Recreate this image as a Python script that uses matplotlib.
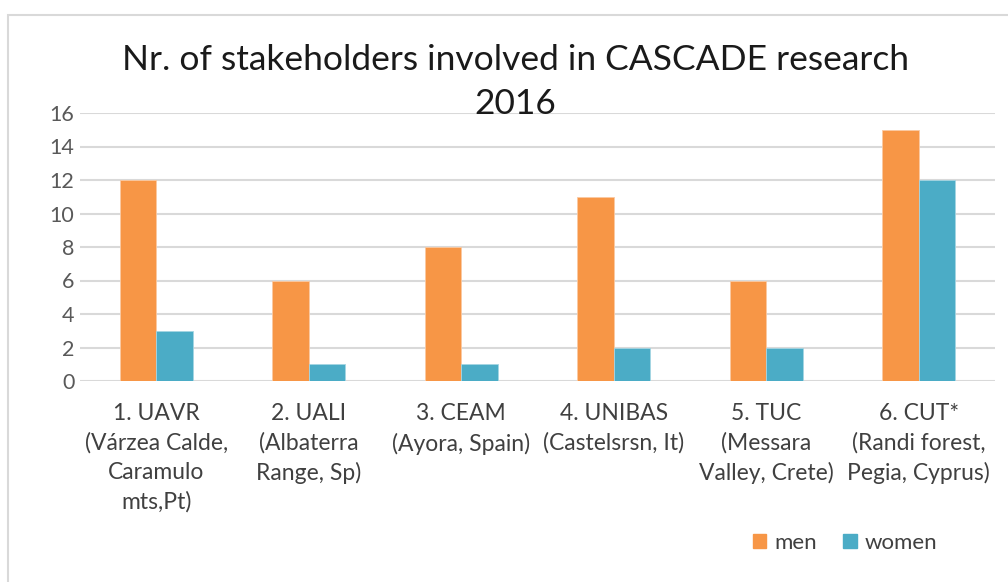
import matplotlib.pyplot as plt
import numpy as np
from matplotlib.patches import Rectangle, Patch

plt.rcParams['font.family'] = ['Lato', 'DejaVu Sans']

# Data
sites = [
    "1. UAVR\n(Várzea Calde,\nCaramulo\nmts,Pt)",
    "2. UALI\n(Albaterra\nRange, Sp)",
    "3. CEAM\n(Ayora, Spain)",
    "4. UNIBAS\n(Castelsrsn, It)",
    "5. TUC\n(Messara\nValley, Crete)",
    "6. CUT*\n(Randi forest,\nPegia, Cyprus)",
]
men = [12, 6, 8, 11, 6, 15]
women = [3, 1, 1, 2, 2, 12]
y_ticks = [0, 2, 4, 6, 8, 10, 12, 14, 16]

men_color = '#F79646'
women_color = '#4BACC6'
text_color = '#595959'
grid_color = '#D9D9D9'

W, H = 1008, 582
fig = plt.figure(figsize=(W / 100, H / 100), dpi=100)

# light chart-area border (cropped on right/bottom in the reference)
fig.patches.append(Rectangle((8 / W, -0.1), 1.2, (H - 15) / H + 0.1,
                             transform=fig.transFigure, fill=False,
                             edgecolor='#D9D9D9', linewidth=1.5))

ax = fig.add_axes([80 / W, (H - 381) / H, 915 / W, 268 / H])

x = np.arange(len(sites))
bw = 0.24
ax.bar(x - bw / 2, men, bw, color=men_color, edgecolor='#FBC9A2', linewidth=0.6, zorder=3)
ax.bar(x + bw / 2, women, bw, color=women_color, edgecolor='#A5D5E2', linewidth=0.6, zorder=3)

ax.set_xlim(-0.5, len(sites) - 0.5)
ax.set_ylim(0, 16)
ax.set_yticks(y_ticks)
ax.set_yticklabels([str(v) for v in y_ticks], fontsize=15.5, color=text_color)
ax.set_xticks(x)
ax.set_xticklabels(sites, fontsize=16.5, color='#404040', linespacing=1.46, va='top')
ax.tick_params(axis='both', length=0)
ax.tick_params(axis='x', pad=16)
ax.tick_params(axis='y', pad=4)

for v in y_ticks:
    ax.axhline(v, color=grid_color, linewidth=1.5, zorder=1)
for s in ax.spines.values():
    s.set_visible(False)

fig.text(515 / W, 1 - 60 / H, "Nr. of stakeholders involved in CASCADE research",
         ha='center', va='center', fontsize=25.5, color='#1a1a1a')
fig.text(515 / W, 1 - 104 / H, "2016", ha='center', va='center', fontsize=25.5, color='#1a1a1a')

handles = [Patch(color=men_color, label='men'), Patch(color=women_color, label='women')]
fig.legend(handles=handles, loc='center', bbox_to_anchor=(845 / W, 1 - 543 / H), ncol=2,
           frameon=False, fontsize=16, handlelength=0.6, handleheight=0.6,
           handletextpad=0.35, columnspacing=1.2, labelcolor='#404040')

fig.savefig('out.png', dpi=100, facecolor='white')
